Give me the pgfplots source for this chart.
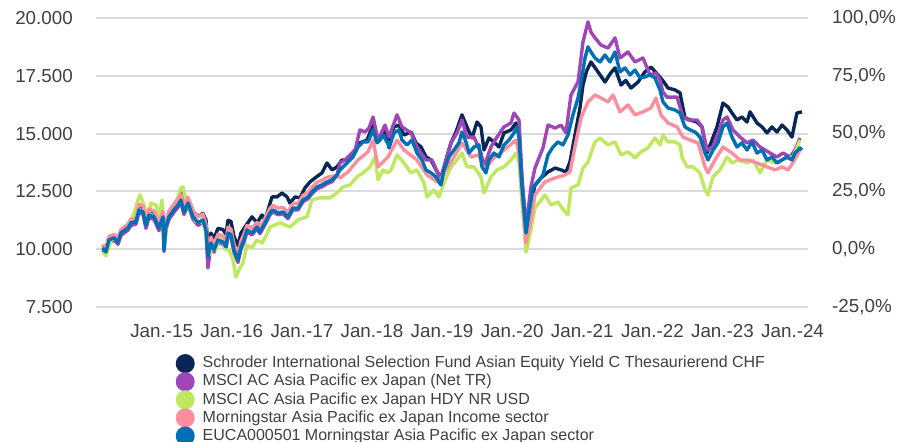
\documentclass[border=0pt]{standalone}
\usepackage{fontspec}
\setmainfont{Liberation Sans}
\usepackage{pgfplots}
\pgfplotsset{compat=1.18}
\definecolor{cnavy}{RGB}{8,38,86}
\definecolor{cpurple}{RGB}{160,70,185}
\definecolor{cgreen}{RGB}{190,232,95}
\definecolor{cpink}{RGB}{253,142,157}
\definecolor{cblue}{RGB}{0,112,181}
\definecolor{ctext}{RGB}{64,64,64}
\begin{document}
\begin{tikzpicture}
\useasboundingbox (0,0) rectangle (898pt,442pt);
\begin{axis}[
  at={(96pt,135pt)}, anchor=south west,
  scale only axis, width=712pt, height=289pt,
  xmin=2014.063, xmax=2024.22,
  ymin=7500, ymax=20000,
  scaled x ticks=false, scaled y ticks=false,
  axis line style={draw=none},
  major tick length=0pt,
  xtick={2015,2016,2017,2018,2019,2020,2021,2022,2023,2024},
  xticklabels={Jan.-15,Jan.-16,Jan.-17,Jan.-18,Jan.-19,Jan.-20,Jan.-21,Jan.-22,Jan.-23,Jan.-24},
  ytick={7500,10000,12500,15000,17500,20000},
  yticklabels={7.500,10.000,12.500,15.000,17.500,20.000},
  extra y ticks={7500}, extra y tick labels={},
  extra y tick style={grid style={line width=2pt, color=gray!45}},
  ymajorgrids,
  major grid style={line width=2pt, color=gray!28},
  xticklabel style={anchor=north, inner sep=0pt, yshift=-17pt, font=\fontsize{18.8}{22}\selectfont, text=ctext},
  yticklabel style={anchor=east, inner sep=0pt, xshift=-23pt, font=\fontsize{18.8}{22}\selectfont, text=ctext},
  every axis plot/.append style={line width=3.4pt, line join=round},
  legend cell align=left,
  legend image code/.code={\fill[#1] (7.8pt,0pt) circle (7.8pt);},
  legend style={at={(0.112,-0.163)}, anchor=north west, draw=none, fill=none, inner sep=0pt, outer sep=0pt,
    font=\fontsize{16}{18}\selectfont, text=ctext, row sep=-0.9pt, column sep=8pt,
    nodes={inner sep=0pt, text height=11.5pt, text depth=3pt}},
]
\addplot[color=cnavy] table {
2014.158 10180
2014.205 10010
2014.248 10530
2014.320 10620
2014.377 10440
2014.419 10830
2014.519 11050
2014.562 11270
2014.633 11310
2014.676 11900
2014.733 11810
2014.776 11250
2014.819 11680
2014.890 11600
2014.961 11120
2015.019 11600
2015.033 10170
2015.061 11160
2015.104 11600
2015.175 11900
2015.233 12200
2015.275 12430
2015.318 11810
2015.375 12200
2015.447 11650
2015.518 11400
2015.589 11550
2015.632 11260
2015.660 10150
2015.703 10700
2015.746 10450
2015.803 10900
2015.874 10850
2015.917 10650
2015.946 11250
2015.989 11200
2016.031 10550
2016.089 10150
2016.131 10700
2016.188 10960
2016.288 11400
2016.360 11140
2016.431 11480
2016.474 11270
2016.574 12260
2016.645 12260
2016.716 12430
2016.788 12260
2016.830 12000
2016.902 12260
2016.973 12220
2017.044 12650
2017.116 12910
2017.187 13080
2017.287 13300
2017.358 13730
2017.430 13430
2017.501 13560
2017.572 13860
2017.644 13860
2017.729 14160
2017.829 14600
2017.929 14720
2018.015 15370
2018.086 14720
2018.186 15160
2018.243 14720
2018.314 15290
2018.386 15370
2018.457 14940
2018.557 15070
2018.628 14600
2018.699 14420
2018.770 13990
2018.842 13860
2018.913 13430
2018.984 13080
2019.056 13860
2019.127 14600
2019.198 15070
2019.284 15810
2019.355 15290
2019.427 14810
2019.498 15500
2019.555 15290
2019.598 14290
2019.669 14810
2019.740 14640
2019.812 14420
2019.883 15030
2019.983 15160
2020.055 15460
2020.097 15160
2020.140 12870
2020.197 10960
2020.268 12000
2020.325 12780
2020.411 13080
2020.511 13340
2020.611 13510
2020.696 13430
2020.767 13340
2020.824 13770
2020.896 14940
2020.967 16110
2021.010 17100
2021.060 17700
2021.124 18100
2021.224 17670
2021.324 17230
2021.400 17600
2021.467 17840
2021.553 17100
2021.620 17300
2021.695 16970
2021.795 17230
2021.894 17670
2021.980 17880
2022.080 17540
2022.165 17230
2022.223 16970
2022.323 16890
2022.394 16760
2022.465 15680
2022.537 15590
2022.637 15500
2022.708 15290
2022.779 14160
2022.851 14720
2022.922 15290
2023.007 16320
2023.079 16150
2023.136 15890
2023.207 15590
2023.278 15720
2023.350 15500
2023.393 15940
2023.492 15460
2023.564 15290
2023.635 15030
2023.706 15290
2023.778 15070
2023.849 15370
2023.920 15160
2023.991 14850
2024.062 15890
2024.134 15940
};
\addlegendentry{Schroder International Selection Fund Asian Equity Yield C Thesaurierend CHF}
\addplot[color=cpurple] table {
2014.158 9950
2014.205 9780
2014.248 10300
2014.320 10390
2014.377 10210
2014.419 10600
2014.519 10820
2014.562 11030
2014.633 11080
2014.676 11600
2014.733 11510
2014.776 10900
2014.819 11380
2014.890 11290
2014.961 10800
2015.019 11300
2015.033 9900
2015.061 10860
2015.104 11290
2015.175 11600
2015.233 11810
2015.275 12030
2015.318 11500
2015.375 11900
2015.447 11290
2015.518 11030
2015.589 11160
2015.632 10730
2015.660 9190
2015.703 10170
2015.746 9870
2015.803 10300
2015.874 10210
2015.917 10000
2015.946 10600
2015.989 10520
2016.031 9870
2016.089 9430
2016.131 10000
2016.174 10300
2016.217 10750
2016.288 10620
2016.360 10880
2016.402 10670
2016.474 11060
2016.545 11490
2016.588 11620
2016.659 11490
2016.730 11530
2016.802 11320
2016.873 11700
2016.944 11700
2017.016 12050
2017.088 12180
2017.144 12400
2017.216 12610
2017.287 12700
2017.358 12830
2017.430 12920
2017.501 13200
2017.544 13730
2017.615 13860
2017.687 14080
2017.758 14290
2017.829 15160
2017.901 15070
2017.958 15240
2018.015 15720
2018.086 14720
2018.186 15370
2018.243 14850
2018.357 15810
2018.428 15290
2018.557 15030
2018.642 14420
2018.770 13860
2018.856 13860
2018.984 13000
2019.056 13860
2019.127 14600
2019.213 15030
2019.284 15590
2019.355 14850
2019.455 14850
2019.555 14160
2019.598 13560
2019.698 14420
2019.783 14850
2019.883 15290
2019.983 15460
2020.026 15890
2020.097 15590
2020.140 13130
2020.197 10960
2020.268 12690
2020.325 13510
2020.439 14380
2020.511 15370
2020.611 15240
2020.696 15370
2020.767 15030
2020.839 16670
2020.939 17230
2021.010 18960
2021.081 19830
2021.124 19390
2021.181 19140
2021.267 18830
2021.367 18700
2021.467 19140
2021.538 18270
2021.652 18530
2021.752 18100
2021.866 18270
2021.966 17540
2022.051 17620
2022.108 17320
2022.151 16800
2022.208 16580
2022.351 16580
2022.437 15720
2022.508 15590
2022.637 15590
2022.708 15290
2022.779 14290
2022.865 14420
2023.007 15590
2023.065 15720
2023.150 15160
2023.250 14850
2023.350 14600
2023.436 14720
2023.536 14420
2023.678 14160
2023.778 13990
2023.863 14160
2023.963 13990
2024.034 14290
2024.105 14810
};
\addlegendentry{MSCI AC Asia Pacific ex Japan (Net TR)}
\addplot[color=cgreen] table {
2014.164 9880
2014.205 9710
2014.277 10400
2014.348 10490
2014.419 10700
2014.491 10960
2014.562 11270
2014.605 11570
2014.662 12130
2014.690 12350
2014.748 11910
2014.805 11400
2014.847 12000
2014.919 11910
2014.961 11400
2015.004 12130
2015.033 10100
2015.076 11180
2015.133 11700
2015.204 12000
2015.275 12650
2015.304 12690
2015.347 12130
2015.418 11610
2015.489 11180
2015.589 11180
2015.632 10700
2015.675 9750
2015.732 10100
2015.775 9970
2015.817 10530
2015.874 10270
2015.917 9970
2015.960 9970
2016.017 9540
2016.060 8800
2016.103 9100
2016.160 9410
2016.217 10180
2016.288 10060
2016.360 10400
2016.431 10270
2016.488 10570
2016.545 10960
2016.688 11140
2016.830 10960
2016.944 11270
2017.073 11400
2017.144 12130
2017.258 12220
2017.401 12220
2017.501 12430
2017.587 12690
2017.687 12780
2017.786 13130
2017.872 13300
2017.972 13560
2018.043 13990
2018.086 13000
2018.158 13430
2018.229 13300
2018.272 13430
2018.357 14080
2018.457 13730
2018.557 13300
2018.642 13430
2018.742 12870
2018.785 12260
2018.884 12560
2018.956 12260
2019.027 12870
2019.127 13560
2019.213 13860
2019.284 14160
2019.355 13560
2019.455 13560
2019.555 13130
2019.598 12430
2019.698 13130
2019.783 13430
2019.883 13560
2019.983 13860
2020.055 14160
2020.097 13730
2020.140 12000
2020.197 9880
2020.268 10830
2020.325 11780
2020.468 12350
2020.554 11910
2020.653 12040
2020.753 11610
2020.796 11480
2020.839 12650
2020.939 12780
2021.010 13510
2021.081 13770
2021.181 14640
2021.253 14810
2021.367 14510
2021.467 14640
2021.553 14080
2021.652 14210
2021.752 13950
2021.838 14210
2021.937 14380
2022.037 14810
2022.108 14510
2022.151 14940
2022.223 14640
2022.323 14640
2022.394 14510
2022.422 13990
2022.494 13560
2022.579 13560
2022.679 13300
2022.751 12560
2022.793 12350
2022.865 13130
2022.965 13430
2023.065 13990
2023.136 13730
2023.221 13860
2023.350 13730
2023.436 13860
2023.536 13300
2023.635 13860
2023.749 13730
2023.849 13860
2023.934 13950
2024.005 13990
2024.105 14720
};
\addlegendentry{MSCI AC Asia Pacific ex Japan HDY NR USD}
\addplot[color=cpink] table {
2014.158 10200
2014.205 10030
2014.248 10550
2014.320 10640
2014.377 10460
2014.419 10850
2014.519 11070
2014.562 11290
2014.633 11330
2014.676 11950
2014.733 11860
2014.776 11300
2014.819 11730
2014.890 11650
2014.961 11170
2015.019 11650
2015.033 10150
2015.061 11210
2015.104 11650
2015.175 11950
2015.233 12160
2015.275 12380
2015.318 11860
2015.375 12250
2015.447 11650
2015.518 11390
2015.589 11520
2015.632 11080
2015.660 9850
2015.703 10520
2015.746 10220
2015.803 10650
2015.874 10560
2015.917 10350
2015.946 10950
2015.989 10870
2016.031 10220
2016.089 9780
2016.131 10350
2016.174 10650
2016.217 11030
2016.288 10900
2016.360 11160
2016.402 10950
2016.474 11340
2016.545 11770
2016.588 11900
2016.659 11770
2016.730 11810
2016.802 11600
2016.873 11980
2016.944 11980
2017.016 12330
2017.088 12460
2017.144 12680
2017.216 12890
2017.287 12980
2017.358 13110
2017.430 13150
2017.501 13200
2017.544 13080
2017.658 13340
2017.801 13860
2017.943 14210
2018.015 14720
2018.086 13560
2018.229 13990
2018.357 14720
2018.457 14290
2018.642 13860
2018.785 13210
2018.956 12870
2019.027 13300
2019.170 13990
2019.284 14600
2019.413 13990
2019.526 14080
2019.598 13430
2019.740 13950
2019.883 14290
2020.055 14720
2020.097 14160
2020.140 12430
2020.197 10270
2020.268 11270
2020.325 12350
2020.468 12910
2020.611 13080
2020.753 13210
2020.824 13340
2020.910 14640
2020.982 15680
2021.081 16370
2021.181 16670
2021.267 16540
2021.367 16370
2021.438 16670
2021.538 15940
2021.652 16240
2021.752 15810
2021.866 15940
2021.980 16110
2022.051 16540
2022.122 15810
2022.223 15460
2022.351 15290
2022.437 14850
2022.537 14720
2022.651 14600
2022.751 13560
2022.793 13300
2022.893 13860
2023.007 14420
2023.136 14160
2023.250 13860
2023.364 13860
2023.492 13730
2023.635 13560
2023.749 13430
2023.849 13560
2023.934 13430
2024.005 13730
2024.105 14290
};
\addlegendentry{Morningstar Asia Pacific ex Japan Income sector}
\addplot[color=cblue] table {
2014.158 10050
2014.205 9880
2014.248 10400
2014.320 10490
2014.377 10310
2014.419 10700
2014.519 10920
2014.562 11140
2014.633 11180
2014.676 11700
2014.733 11610
2014.776 11050
2014.819 11480
2014.890 11400
2014.961 10920
2015.019 11400
2015.033 9970
2015.061 10960
2015.104 11400
2015.175 11700
2015.233 11910
2015.275 12130
2015.318 11610
2015.375 12000
2015.447 11400
2015.518 11140
2015.589 11270
2015.632 10830
2015.660 9670
2015.703 10270
2015.746 9970
2015.803 10400
2015.874 10310
2015.917 10100
2015.946 10700
2015.989 10620
2016.031 9970
2016.089 9540
2016.131 10100
2016.174 10400
2016.217 10830
2016.288 10700
2016.360 10960
2016.402 10750
2016.474 11140
2016.545 11570
2016.588 11700
2016.659 11570
2016.730 11610
2016.802 11400
2016.873 11780
2016.944 11780
2017.016 12130
2017.088 12260
2017.144 12480
2017.216 12690
2017.287 12780
2017.358 12910
2017.430 13000
2017.501 13210
2017.544 13430
2017.587 13560
2017.658 13770
2017.729 13990
2017.801 14420
2017.872 14640
2017.943 14640
2018.015 15160
2018.072 14600
2018.115 14720
2018.158 14940
2018.229 14550
2018.243 14380
2018.314 15030
2018.386 15160
2018.428 14720
2018.500 14510
2018.571 14720
2018.642 14160
2018.713 13860
2018.770 13430
2018.842 13300
2018.913 13130
2018.984 12780
2019.027 13430
2019.098 13990
2019.170 14290
2019.241 14600
2019.284 15070
2019.341 14640
2019.384 14160
2019.455 14420
2019.526 14510
2019.569 13560
2019.626 13300
2019.669 13860
2019.740 14160
2019.812 13990
2019.883 14510
2019.954 14720
2020.026 15030
2020.069 15290
2020.097 14850
2020.140 12690
2020.197 10700
2020.240 11570
2020.297 12650
2020.368 12910
2020.439 13210
2020.511 14080
2020.582 14420
2020.653 14640
2020.725 14510
2020.796 14940
2020.867 15810
2020.939 16540
2020.982 17230
2021.039 18270
2021.081 18750
2021.124 18530
2021.181 18270
2021.253 18100
2021.324 18400
2021.395 18100
2021.467 18530
2021.538 17670
2021.609 17840
2021.681 17540
2021.752 17750
2021.823 17410
2021.894 17450
2021.966 17540
2022.037 17410
2022.108 16890
2022.151 16370
2022.223 16110
2022.323 16020
2022.394 15890
2022.465 15290
2022.537 15160
2022.608 15070
2022.679 14850
2022.751 14160
2022.793 13860
2022.865 14290
2022.936 14600
2023.007 15290
2023.065 15460
2023.136 14850
2023.207 14420
2023.278 14600
2023.350 14290
2023.421 14640
2023.492 14160
2023.564 14290
2023.635 13860
2023.706 13990
2023.778 13730
2023.849 13860
2023.920 13990
2023.991 13860
2024.034 14160
2024.105 14380
2024.134 14290
};
\addlegendentry{EUCA000501 Morningstar Asia Pacific ex Japan sector}
\end{axis}
\begin{axis}[
  at={(96pt,135pt)}, anchor=south west,
  scale only axis, width=712pt, height=289pt,
  xmin=0, xmax=1, ymin=-25, ymax=100,
  axis line style={draw=none},
  major tick length=0pt,
  xtick=\empty,
  ytick={-25,0,25,50,75,100},
  yticklabels={{-25,0\%},{0,0\%},{25,0\%},{50,0\%},{75,0\%},{100,0\%}},
  yticklabel pos=right,
  yticklabel style={anchor=west, inner sep=0pt, xshift=24pt, font=\fontsize{18.8}{22}\selectfont, text=ctext},
]
\end{axis}
\end{tikzpicture}
\end{document}
